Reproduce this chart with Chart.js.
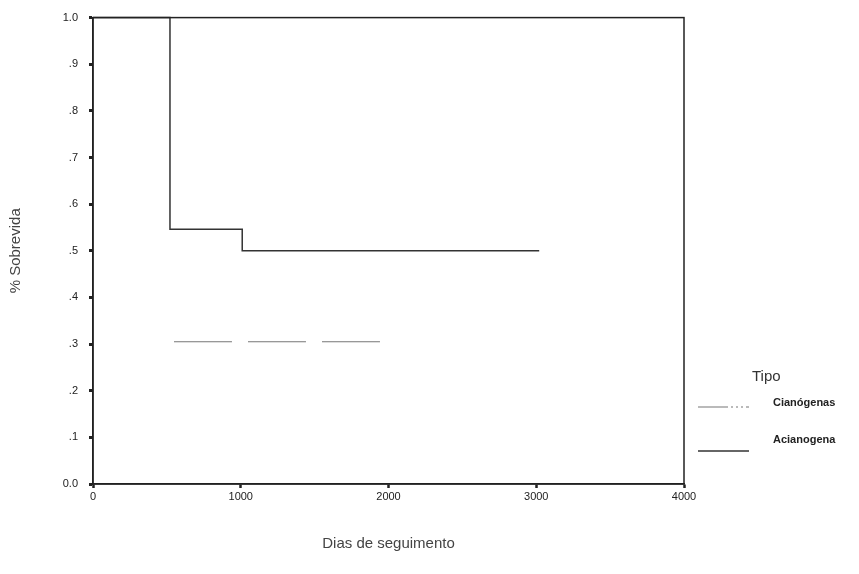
<!doctype html>
<html lang="es">
<head>
<meta charset="utf-8">
<title>% Sobrevida</title>
<style>
  * { margin: 0; padding: 0; }
  body { background: #fff; width: 859px; height: 574px; overflow: hidden; }
  canvas { display: block; }
</style>
</head>
<body>
<canvas id="km" width="859" height="574"></canvas>
<script src="https://cdn.jsdelivr.net/npm/chart.js@4.4.1/dist/chart.umd.min.js"></script>
<script>
  // Kaplan-Meier curves
  const acianoDays = [0, 521, 1010, 3020];
  const acianoSurv = [1.0, 0.546, 0.5, 0.5];
  const cianoDays = [548, 1949];
  const cianoSurv = [0.305, 0.305];
  const seriesNames = ["Cianógenas", "Acianogena"];
  const yTicks = [0, 0.1, 0.2, 0.3, 0.4, 0.5, 0.6, 0.7, 0.8, 0.9, 1.0];
  const yTickLabels = ["0.0", ".1", ".2", ".3", ".4", ".5", ".6", ".7", ".8", ".9", "1.0"];
  const xTicks = [0, 1000, 2000, 3000, 4000];

  const ink = "#222";
  const fam = "'Liberation Sans', Arial, sans-serif";
  Chart.defaults.font.family = fam;
  Chart.defaults.color = ink;

  const pts = (xs, ys) => xs.map((x, i) => ({ x, y: ys[i] }));

  const frame = {
    id: "frame",
    afterDatasetsDraw(chart) {
      const { ctx, chartArea: a } = chart;
      ctx.save();
      ctx.strokeStyle = ink;
      ctx.lineWidth = 1.5;
      ctx.strokeRect(a.left, a.top, a.right - a.left, a.bottom - a.top);
      ctx.restore();
    }
  };

  const legendBox = {
    id: "legendBox",
    afterDraw(chart) {
      const ctx = chart.ctx;
      ctx.save();
      ctx.fillStyle = "#333";
      ctx.textBaseline = "middle";
      ctx.font = "15px " + fam;
      ctx.fillText("Tipo", 752, 377);
      const rows = [[403, 407], [440, 451]];
      const dashes = [[30, 3, 2, 3, 2, 3, 2, 3], []];
      chart.data.datasets.forEach((ds, i) => {
        const [ty, ly] = rows[i];
        ctx.strokeStyle = ds.borderColor;
        ctx.lineWidth = ds.borderWidth;
        ctx.setLineDash(dashes[i]);
        ctx.beginPath();
        ctx.moveTo(698, ly);
        ctx.lineTo(749, ly);
        ctx.stroke();
        ctx.setLineDash([]);
        ctx.fillStyle = ink;
        ctx.font = "bold 11px " + fam;
        ctx.fillText(ds.label, 773, ty);
      });
      ctx.restore();
    }
  };

  new Chart(document.getElementById("km"), {
    type: "line",
    data: {
      datasets: [
        { label: seriesNames[0], data: pts(cianoDays, cianoSurv), borderColor: "#777",
          borderWidth: 1.2, borderDash: [58, 16], pointRadius: 0, stepped: "before", clip: false },
        { label: seriesNames[1], data: pts(acianoDays, acianoSurv), borderColor: "#333",
          borderWidth: 1.5, pointRadius: 0, stepped: "before", clip: false }
      ]
    },
    options: {
      responsive: false,
      animation: false,
      layout: { padding: { top: 15, right: 175, left: 0, bottom: 0 } },
      plugins: { legend: { display: false }, tooltip: { enabled: false } },
      scales: {
        x: {
          type: "linear", min: 0, max: 4000,
          afterFit: (s) => { s.height = 90; },
          afterBuildTicks: (s) => { s.ticks = xTicks.map((v) => ({ value: v })); },
          grid: { drawOnChartArea: false, tickLength: 4, tickWidth: 2.5, tickColor: ink },
          border: { display: true, color: ink, width: 1.5 },
          ticks: { padding: 2, font: { size: 11 }, color: ink, maxRotation: 0,
            callback: (v) => String(v) },
          title: { display: true, text: "Dias de seguimento", color: "#444",
            font: { size: 15 }, padding: { top: 0, bottom: 21 } }
        },
        y: {
          type: "linear", min: 0, max: 1,
          afterFit: (s) => { s.width = 93; },
          afterBuildTicks: (s) => { s.ticks = yTicks.map((v) => ({ value: v })); },
          grid: { drawOnChartArea: false, tickLength: 4, tickWidth: 3, tickColor: ink },
          border: { display: true, color: ink, width: 1.5 },
          ticks: { padding: 11, font: { size: 11 }, color: ink,
            callback: (v) => yTickLabels[yTicks.findIndex((t) => Math.abs(t - v) < 1e-6)] },
          title: { display: true, text: "% Sobrevida", color: "#444",
            font: { size: 15 }, padding: { top: 7, bottom: 0 } }
        }
      }
    },
    plugins: [frame, legendBox]
  });
</script>
</body>
</html>
